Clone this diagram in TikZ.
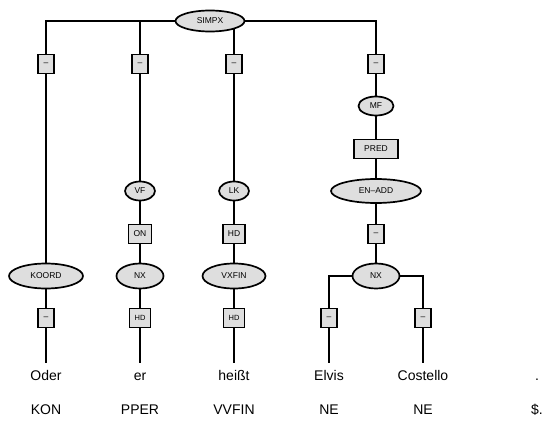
\documentclass[tikz,border=0pt]{standalone}
\usepackage{fontspec}
\setmainfont{Liberation Sans}
\usetikzlibrary{shapes.geometric,backgrounds}
\definecolor{nodeGray}{RGB}{222,222,222}

\begin{document}
\begin{tikzpicture}[x=1pt, y=-1pt,
    cat/.style 2 args={ellipse, draw, fill=nodeGray, line width=1.7pt,
      inner sep=0pt, minimum width=#1, minimum height=#2,
      font=\fontsize{8.5}{9}\selectfont},
    lab/.style={rectangle, draw, fill=nodeGray, line width=1.7pt,
      inner xsep=5pt, inner ysep=0pt, minimum width=16pt, minimum height=19pt,
      font=\fontsize{8.5}{9}\selectfont},
    word/.style={inner xsep=0pt, inner ysep=8pt, text height=9pt, text depth=2.5pt,
      font=\fontsize{14}{16}\selectfont},
    tag/.style={inner sep=0pt, font=\fontsize{14}{16}\selectfont},
    edge/.style={line width=1.7pt}]
  \useasboundingbox (0,0) rectangle (544,423);
  % --- top: sentence node and its edge labels ---
  \node[cat={69pt}{21pt}] (simpx) at (210,21) {SIMPX};
  \node[lab] (e1) at (46,64) {--};
  \node[lab] (e2) at (140,64) {--};
  \node[lab] (e3) at (234,64) {--};
  \node[lab] (e4) at (376,64) {--};
  % --- topological fields ---
  \node[cat={35pt}{19pt}] (mf) at (376,106) {MF};
  \node[lab, minimum width=44pt] (pred) at (376,149) {PRED};
  \node[cat={30pt}{19pt}] (vf) at (140,191) {VF};
  \node[cat={30pt}{19pt}] (lk) at (234,191) {LK};
  \node[cat={90pt}{24pt}] (enadd) at (376,191) {EN--ADD};
  \node[lab] (on) at (140,234) {ON};
  \node[lab] (hd1) at (234,234) {HD};
  \node[lab] (e5) at (376,234) {--};
  % --- phrases ---
  \node[cat={74pt}{25pt}] (koord) at (46,276) {KOORD};
  \node[cat={47pt}{25pt}] (nx1) at (140,276) {NX};
  \node[cat={63pt}{25pt}] (vxfin) at (234,276) {VXFIN};
  \node[cat={47pt}{25pt}] (nx2) at (376,276) {NX};
  % --- edge labels above the words ---
  \node[lab] (b1) at (46,318) {--};
  \node[lab, font=\fontsize{7.5}{8}\selectfont] (b2) at (140,318) {HD};
  \node[lab, font=\fontsize{7.5}{8}\selectfont] (b3) at (234,318) {HD};
  \node[lab] (b4) at (329,318) {--};
  \node[lab] (b5) at (423,318) {--};
  % --- words and their tags ---
  \node[word] (w1) at (46,377) {Oder};
  \node[word] (w2) at (140,377) {er};
  \node[word] (w3) at (234,377) {heißt};
  \node[word] (w4) at (329,377) {Elvis};
  \node[word] (w5) at (423,377) {Costello};
  \node[word] (w6) at (537,377) {.};
  \node[tag] (t1) at (46,410) {KON};
  \node[tag] (t2) at (140,410) {PPER};
  \node[tag] (t3) at (234,410) {VVFIN};
  \node[tag] (t4) at (329,410) {NE};
  \node[tag] (t5) at (423,410) {NE};
  \node[tag] (t6) at (537,410) {\$.};
  % --- connectors, behind the nodes ---
  \begin{pgfonlayer}{background}
    \draw[edge] (simpx) -| (e1);
    \draw[edge] (simpx) -| (e2);
    \draw[edge] (simpx) -| (e4);
    \draw[edge] (e3 |- simpx) -- (e3);
    \draw[edge] (e1) -- (koord);
    \draw[edge] (e2) -- (vf);
    \draw[edge] (e3) -- (lk);
    \draw[edge] (e4) -- (mf) -- (pred) -- (enadd) -- (e5) -- (nx2);
    \draw[edge] (vf) -- (on) -- (nx1);
    \draw[edge] (lk) -- (hd1) -- (vxfin);
    \draw[edge] (koord) -- (b1) -- (w1);
    \draw[edge] (nx1) -- (b2) -- (w2);
    \draw[edge] (vxfin) -- (b3) -- (w3);
    \draw[edge] (nx2) -| (b4);
    \draw[edge] (nx2) -| (b5);
    \draw[edge] (b4) -- (w4);
    \draw[edge] (b5) -- (w5);
  \end{pgfonlayer}
\end{tikzpicture}
\end{document}
